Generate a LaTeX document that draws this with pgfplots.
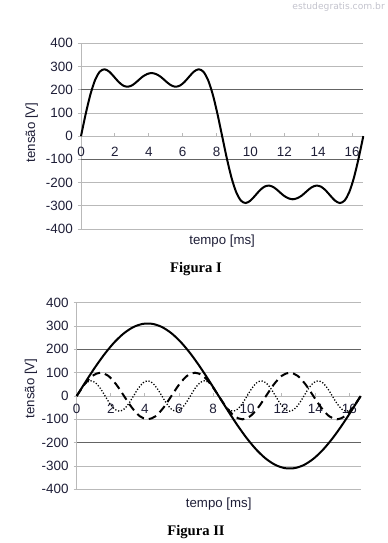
\documentclass[border=0pt]{standalone}
\usepackage{pgfplots}
\usepackage{pgfplotstable}
\pgfplotsset{compat=1.18}
\usepackage{fontspec}
\setmainfont{Liberation Sans}
\newfontfamily\timesfont{Liberation Serif}
\newfontfamily\dejavu{DejaVu Sans}
\definecolor{gridc}{RGB}{185,185,185}
\definecolor{gridd}{RGB}{100,100,100}
\definecolor{labc}{RGB}{30,30,55}
\definecolor{wmark}{RGB}{195,195,205}

% Figura I: tensao resultante
\pgfplotstableread{
t v
0 0
0.278 95.9
0.556 179.8
0.833 242.0
1.111 277.9
1.389 288.0
1.667 277.9
1.944 256.5
2.222 233.6
2.500 217.5
2.778 213.0
3.056 220.7
3.333 237.0
3.611 254.8
3.889 267.0
4.167 272.0
4.444 267.0
4.722 254.8
5.000 237.0
5.278 220.7
5.556 213.0
5.833 217.5
6.111 233.6
6.389 256.5
6.667 277.9
6.944 288.0
7.222 277.9
7.500 242.0
7.778 179.8
8.056 95.9
8.333 0
8.611 -95.9
8.889 -179.8
9.167 -242.0
9.444 -277.9
9.722 -288.0
10.000 -277.9
10.278 -256.5
10.556 -233.6
10.833 -217.5
11.111 -213.0
11.389 -220.7
11.667 -237.0
11.944 -254.8
12.222 -267.0
12.500 -272.0
12.778 -267.0
13.056 -254.8
13.333 -237.0
13.611 -220.7
13.889 -213.0
14.167 -217.5
14.444 -233.6
14.722 -256.5
15.000 -277.9
15.278 -288.0
15.556 -277.9
15.833 -242.0
16.111 -179.8
16.389 -95.9
16.667 0
}\sumtable

% Figura II: fundamental
\pgfplotstableread{
t v
0 0
0.556 64.7
1.111 126.5
1.667 182.8
2.222 231.1
2.778 269.3
3.333 295.8
3.889 309.3
4.444 309.3
5.000 295.8
5.556 269.3
6.111 231.1
6.667 182.8
7.222 126.5
7.778 64.7
8.333 0
8.889 -64.7
9.444 -126.5
10.000 -182.8
10.556 -231.1
11.111 -269.3
11.667 -295.8
12.222 -309.3
12.778 -309.3
13.333 -295.8
13.889 -269.3
14.444 -231.1
15.000 -182.8
15.556 -126.5
16.111 -64.7
16.667 0
}\fundtable

% Figura II: 3a harmonica
\pgfplotstableread{
t v
0 0
0.463 50
0.926 86.6
1.389 100
1.852 86.6
2.315 50
2.778 0
3.241 -50
3.704 -86.6
4.167 -100
4.630 -86.6
5.093 -50
5.556 0
6.019 50
6.481 86.6
6.944 100
7.407 86.6
7.870 50
8.333 0
8.796 -50
9.259 -86.6
9.722 -100
10.185 -86.6
10.648 -50
11.111 0
11.574 50
12.037 86.6
12.500 100
12.963 86.6
13.426 50
13.889 0
14.352 -50
14.815 -86.6
15.278 -100
15.741 -86.6
16.204 -50
16.667 0
}\thirdtable

% Figura II: 5a harmonica
\pgfplotstableread{
t v
0 0
0.278 32.5
0.556 56.3
0.833 65
1.111 56.3
1.389 32.5
1.667 0
1.944 -32.5
2.222 -56.3
2.500 -65
2.778 -56.3
3.056 -32.5
3.333 0
3.611 32.5
3.889 56.3
4.167 65
4.444 56.3
4.722 32.5
5.000 0
5.278 -32.5
5.556 -56.3
5.833 -65
6.111 -56.3
6.389 -32.5
6.667 0
6.944 32.5
7.222 56.3
7.500 65
7.778 56.3
8.056 32.5
8.333 0
8.611 -32.5
8.889 -56.3
9.167 -65
9.444 -56.3
9.722 -32.5
10.000 0
10.278 32.5
10.556 56.3
10.833 65
11.111 56.3
11.389 32.5
11.667 0
11.944 -32.5
12.222 -56.3
12.500 -65
12.778 -56.3
13.056 -32.5
13.333 0
13.611 32.5
13.889 56.3
14.167 65
14.444 56.3
14.722 32.5
15.000 0
15.278 -32.5
15.556 -56.3
15.833 -65
16.111 -56.3
16.389 -32.5
16.667 0
}\fifthtable

\pgfplotsset{
  myaxis/.style={
    scale only axis,
    anchor=south west,
    xmin=0, xmax=16.667, ymin=-400, ymax=400,
    axis x line*=middle, axis y line*=left,
    axis line style={gridc, line width=0.8bp},
    xtick={2,4,...,16},
    extra x ticks={0},
    extra x tick labels={0},
    ymajorgrids, grid style={gridc, line width=0.8bp},
    major tick length=3bp,
    xtick align=inside, ytick align=outside,
    tick style={gridc, line width=0.8bp},
    /pgf/number format/assume math mode=true,
    tick label style={font=\fontsize{13.5}{15}\selectfont, text=labc},
    yticklabel style={anchor=east, inner sep=0pt, xshift=-5bp},
    xticklabel style={anchor=base, inner sep=0pt},
    label style={font=\fontsize{13.3}{15}\selectfont, text=labc},
    xlabel={tempo [ms]},
    clip=false,
  }
}

\begin{document}
\begin{tikzpicture}
\path[use as bounding box] (0,0) rectangle (388bp,543bp);

% Figura I
\begin{axis}[myaxis,
  at={(81bp,314bp)}, width=282.3bp, height=185.7bp,
  ytick={-400,-300,-200,0,100,300,400},
  extra y ticks={-100,200},
  extra y tick style={grid style={gridd, line width=0.8bp}},
  xticklabel style={yshift=-20bp},
  xlabel style={at={(axis description cs:0.5,0)}, anchor=base, yshift=-16bp},
]
\addplot[black, line width=2bp, smooth] table[x=t, y=v] {\sumtable};
\node[rotate=90, anchor=center, font=\fontsize{13.3}{15}\selectfont, text=labc]
  at (axis description cs:-0.175,0.52) {tensão [V]};
\end{axis}

% Figura II
\begin{axis}[myaxis,
  at={(76.7bp,53.7bp)}, width=284bp, height=186.6bp,
  ytick={-400,-300,-100,0,100,300,400},
  extra y ticks={-200,200},
  extra y tick style={grid style={gridd, line width=0.8bp}},
  xticklabel style={yshift=-17.7bp},
  xlabel style={at={(axis description cs:0.5,0)}, anchor=base, yshift=-18bp},
]
\addplot[black, line width=2bp, smooth] table[x=t, y=v] {\fundtable};
\addplot[black, line width=2bp, smooth, dash pattern=on 8bp off 5bp] table[x=t, y=v] {\thirdtable};
\addplot[black, line width=1.3bp, smooth, dash pattern=on 1.2bp off 1.8bp] table[x=t, y=v] {\fifthtable};
\node[rotate=90, anchor=center, font=\fontsize{13.3}{15}\selectfont, text=labc]
  at (axis description cs:-0.161,0.54) {tensão [V]};
\end{axis}

\node[font=\timesfont\bfseries\fontsize{14.7}{16}\selectfont, anchor=base] at (196bp,270bp) {Figura I};
\node[font=\timesfont\bfseries\fontsize{14.7}{16}\selectfont, anchor=base] at (196bp,8bp) {Figura II};
\node[font=\dejavu\fontsize{9.2}{11}\selectfont, text=wmark, anchor=base east, inner sep=0pt] at (385bp,533bp) {estudegratis.com.br};
\end{tikzpicture}
\end{document}
